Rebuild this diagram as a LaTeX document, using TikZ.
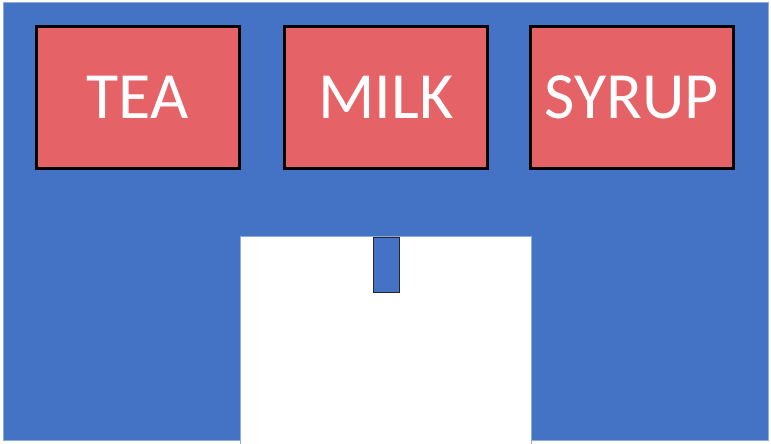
\documentclass[tikz,border=0pt]{standalone}
\usepackage{fontspec}
\setmainfont{Carlito}
\usepackage{xcolor}
\usetikzlibrary{positioning}
\definecolor{panelblue}{HTML}{4472C4}
\definecolor{binred}{HTML}{E56267}
\tikzset{
    binbox/.style={draw=black, line width=3pt, fill=binred, minimum width=203pt, minimum height=141pt,
        font=\fontsize{66}{70}\selectfont, text=white, inner sep=0pt},
}
\begin{document}
\begin{tikzpicture}[x=1pt,y=-1pt]
    \useasboundingbox (0,0) rectangle (771,444);
    \fill[white] (0,0) rectangle (771,444);
    \draw[fill=panelblue, draw=panelblue!60!white, line width=0.8pt] (3,2) rectangle (768,440);
    \node[binbox] (tea) at (137.5,97.5) {TEA};
    \node[binbox] (milk) at (386,97.5) {MILK};
    \node[binbox] (syrup) at (632,97.5) {SYRUP};
    \draw[fill=white, draw=panelblue!60!white, line width=0.8pt] (240,444) -- (240,236) -- (531,236) -- (531,444);
    \draw[fill=panelblue, draw=black!85, line width=1pt] (373,237) rectangle (399,292);
\end{tikzpicture}
\end{document}
